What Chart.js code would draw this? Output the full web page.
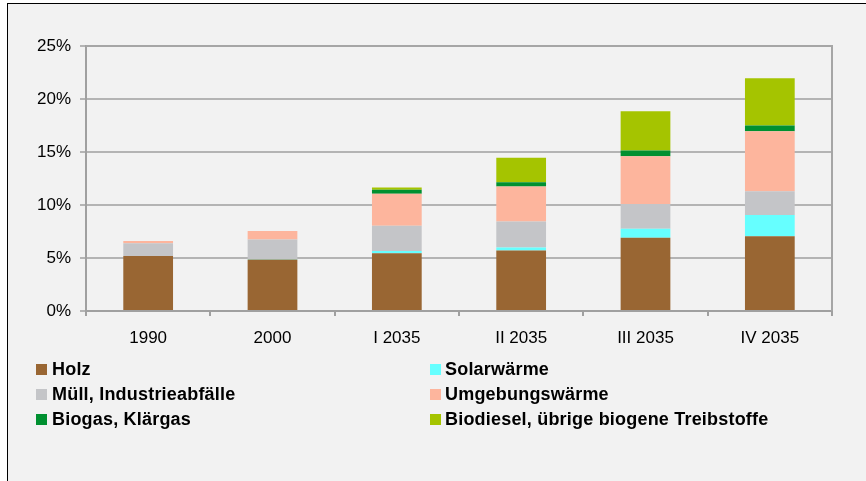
<!DOCTYPE html>
<html>
<head>
<meta charset="utf-8">
<script src="https://cdn.jsdelivr.net/npm/chart.js@4"></script>
<style>
  html, body { margin: 0; padding: 0; background: #ffffff; width: 866px; height: 481px; overflow: hidden; }
  #frame { position: absolute; left: 7px; top: 3px; width: 900px; height: 520px; border: 1px solid #000; background: #f2f2f2; }
  #wrap { position: absolute; left: 0; top: 0; width: 866px; height: 481px; }
  .lg { position: absolute; font: bold 18px "Liberation Sans", Arial, sans-serif; letter-spacing: 0.2px; color: #000; white-space: nowrap; line-height: 20px; }
  .sw { position: absolute; width: 11px; height: 11px; }
</style>
</head>
<body>
<div id="frame"></div>
<div id="wrap"><canvas id="c" width="866" height="481"></canvas></div>
<div id="legend"></div>
<script>
const categories = ['1990', '2000', 'I 2035', 'II 2035', 'III 2035', 'IV 2035'];
const seriesNames = ['Holz', 'Solarwärme', 'Müll, Industrieabfälle', 'Umgebungswärme', 'Biogas, Klärgas', 'Biodiesel, übrige biogene Treibstoffe'];
const holz      = [5.2, 4.85, 5.45, 5.7, 6.9, 7.05];
const solar     = [0, 0.05, 0.2, 0.3, 0.85, 2.0];
const muell     = [1.2, 1.85, 2.4, 2.45, 2.35, 2.25];
const umgebung  = [0.2, 0.8, 3.0, 3.3, 4.5, 5.65];
const biogas    = [0, 0, 0.4, 0.4, 0.55, 0.55];
const biodiesel = [0, 0, 0.2, 2.3, 3.7, 4.45];
const yTicks = [0, 5, 10, 15, 20, 25];

const colors = ['#996633', '#66ffff', '#c4c5c8', '#fdb59d', '#009030', '#a5c400'];
const values = [holz, solar, muell, umgebung, biogas, biodiesel];

const datasets = seriesNames.map((name, i) => ({
  label: name,
  data: values[i],
  backgroundColor: colors[i],
  borderWidth: 0,
  barPercentage: 0.4,
  categoryPercentage: 1.0
}));

const frameBorder = {
  id: 'frameBorder',
  afterDraw(chart) {
    const { ctx, chartArea } = chart;
    ctx.save();
    ctx.strokeStyle = '#a6a6a6';
    ctx.lineWidth = 2;
    ctx.beginPath();
    ctx.moveTo(chartArea.left, chartArea.top);
    ctx.lineTo(chartArea.right, chartArea.top);
    ctx.lineTo(chartArea.right, chartArea.bottom);
    ctx.stroke();
    ctx.restore();
  }
};

new Chart(document.getElementById('c'), {
  type: 'bar',
  data: { labels: categories, datasets },
  options: {
    responsive: false,
    animation: false,
    layout: { padding: { top: 46, right: 34, left: 0, bottom: 0 } },
    plugins: { legend: { display: false }, tooltip: { enabled: false } },
    scales: {
      x: {
        stacked: true,
        grid: { offset: true, drawOnChartArea: false, drawTicks: true, tickLength: 5, color: '#a0a0a0', lineWidth: 2 },
        border: { display: true, color: '#a0a0a0', width: 2 },
        ticks: { color: '#000', font: { family: '"Liberation Sans", Arial, sans-serif', size: 17 }, padding: 12, maxRotation: 0 },
        afterFit(scale) { scale.height = 170; }
      },
      y: {
        stacked: true,
        min: 0, max: 25,
        afterBuildTicks(scale) { scale.ticks = yTicks.map(v => ({ value: v })); },
        grid: { drawOnChartArea: true, drawTicks: true, tickLength: 6, color: '#b4b4b4', lineWidth: 2 },
        border: { display: true, color: '#a0a0a0', width: 2 },
        ticks: { color: '#000', font: { family: '"Liberation Sans", Arial, sans-serif', size: 17 }, padding: 9, callback: v => v + '%' },
        afterFit(scale) { scale.width = 86; }
      }
    }
  },
  plugins: [frameBorder]
});

// HTML legend built from the series arrays (two columns, three rows)
const legend = document.getElementById('legend');
const colX = [[36, 52], [430, 445]];
const rowY = [369, 394, 419];
seriesNames.forEach((name, i) => {
  const col = i % 2, row = Math.floor(i / 2);
  const sw = document.createElement('div');
  sw.className = 'sw';
  sw.style.left = colX[col][0] + 'px';
  sw.style.top = (rowY[row] - 5.5) + 'px';
  sw.style.background = colors[i];
  legend.appendChild(sw);
  const t = document.createElement('div');
  t.className = 'lg';
  t.style.left = colX[col][1] + 'px';
  t.style.top = (rowY[row] - 10) + 'px';
  t.textContent = name;
  legend.appendChild(t);
});
</script>
</body>
</html>
